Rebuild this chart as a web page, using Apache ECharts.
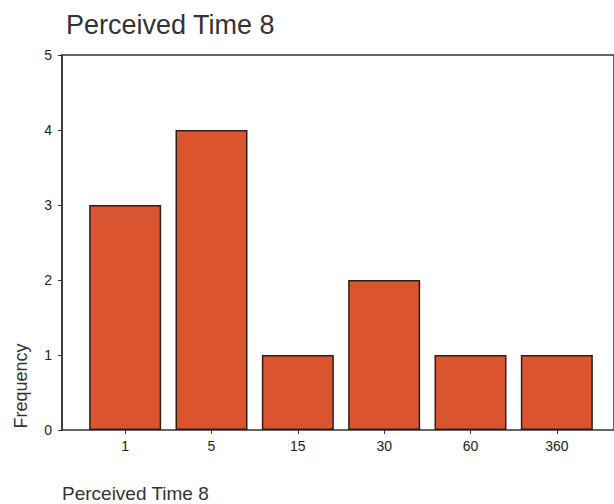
<!DOCTYPE html>
<html>
<head>
<meta charset="utf-8">
<script src="https://cdn.jsdelivr.net/npm/echarts@6/dist/echarts.min.js"></script>
<style>
  html, body { margin: 0; padding: 0; background: #fff; }
  #chart { width: 614px; height: 504px; }
</style>
</head>
<body>
<div id="chart"></div>
<script>
// data
const categories = ['1', '5', '15', '30', '60', '360'];
const frequency = [3, 4, 1, 2, 1, 1];
const yMin = 0, yMax = 5, yStep = 1;

const chart = echarts.init(document.getElementById('chart'), null, { renderer: 'svg' });
const font = 'Liberation Sans, Arial, sans-serif';

const option = {
  backgroundColor: '#fff',
  animation: false,
  title: {
    text: 'Perceived Time 8',
    left: 61, top: 6,
    textStyle: { fontFamily: font, fontSize: 27, fontWeight: 'normal', color: '#333' }
  },
  // grid 0 holds the frame and y axis, grid 1 holds the bars (padded inside the frame)
  grid: [
    { left: 62, right: -10, top: 55, bottom: 74, show: true, borderColor: '#333', borderWidth: 1.5 },
    { left: 82, right: 14, top: 55, bottom: 74 }
  ],
  xAxis: [
    { gridIndex: 0, type: 'value', min: 0, max: 1, axisLine: { show: false },
      axisTick: { show: false }, axisLabel: { show: false }, splitLine: { show: false } },
    { gridIndex: 1, type: 'category', data: categories,
      axisLine: { show: false },
      axisTick: { show: true, alignWithLabel: true, length: 4, lineStyle: { color: '#333', width: 1 } },
      axisLabel: { margin: 9, fontFamily: font, fontSize: 14, color: '#222' } }
  ],
  yAxis: [
    { gridIndex: 0, type: 'value', min: yMin, max: yMax, interval: yStep,
      axisLine: { show: true, lineStyle: { color: '#333', width: 1.5 } },
      axisTick: { show: true, length: 4, lineStyle: { color: '#333', width: 1 } },
      axisLabel: { margin: 10, fontFamily: font, fontSize: 14, color: '#222' },
      splitLine: { show: false } },
    { gridIndex: 1, type: 'value', min: yMin, max: yMax, show: false }
  ],
  series: [{
    type: 'bar',
    xAxisIndex: 1, yAxisIndex: 1,
    data: frequency,
    barWidth: 72,
    itemStyle: { color: '#d9542f', borderColor: '#2e1e16', borderWidth: 1.5 }
  }],
  graphic: [
    { type: 'text', x: 62, y: 493,
      style: { text: 'Perceived Time 8', font: '19px ' + font, fill: '#333', verticalAlign: 'middle' } },
    { type: 'text', x: 21, y: 386, rotation: Math.PI / 2,
      style: { text: 'Frequency', font: '18px ' + font, fill: '#333', align: 'center', verticalAlign: 'middle' } }
  ]
};

chart.setOption(option);
</script>
</body>
</html>
